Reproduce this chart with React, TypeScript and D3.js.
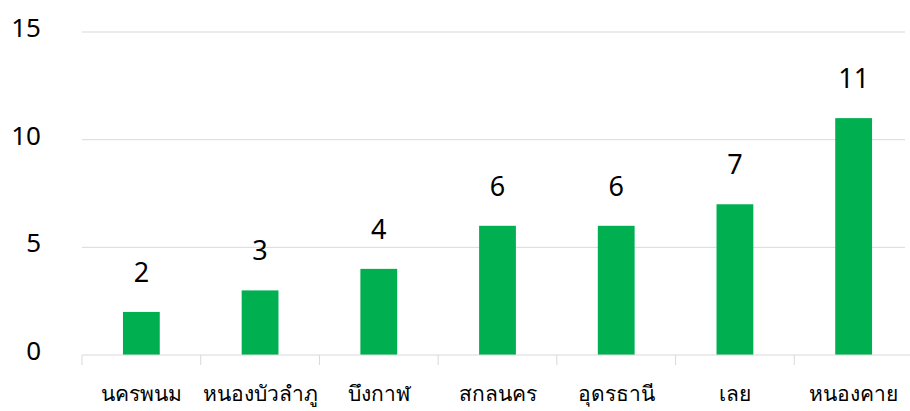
import React from 'react';
import * as d3 from 'd3';

const provinces = ['นครพนม', 'หนองบัวลำภู', 'บึงกาฬ', 'สกลนคร', 'อุดรธานี', 'เลย', 'หนองคาย'];
const counts = [2, 3, 4, 6, 6, 7, 11];
const yTicks = [0, 5, 10, 15];

const width = 910;
const height = 411;
const margin = { top: 32, right: -3, bottom: 56, left: 82 };

const App: React.FC = () => {
  const innerWidth = width - margin.left - margin.right;
  const innerHeight = height - margin.top - margin.bottom;

  const x = d3.scaleBand().domain(provinces).range([0, innerWidth]).paddingInner(0.69).paddingOuter(0.345);
  const band = d3.scaleBand().domain(provinces).range([0, innerWidth]);
  const y = d3.scaleLinear().domain([0, 15]).range([innerHeight, 0]);

  const font = 'Tahoma, "Noto Sans", "DejaVu Sans", sans-serif';

  return (
    <svg width={width} height={height} style={{ position: 'absolute', left: 0, top: 0 }}>
      <rect width={width} height={height} fill="#fff" />
      <g transform={`translate(${margin.left},${margin.top})`}>
        {yTicks.map(t => (
          <g key={t}>
            {t > 0 && <line x1={0} x2={innerWidth - 8} y1={y(t)} y2={y(t)} stroke="#d9d9d9" strokeWidth={1} />}
            <text x={-41} y={y(t) + 5} textAnchor="end" fontSize={26} fontFamily={font} fill="#000">{t}</text>
          </g>
        ))}
        {counts.map((v, i) => (
          <rect key={provinces[i]} x={x(provinces[i])} y={y(v)} width={x.bandwidth()} height={innerHeight - y(v)} fill="#00b050" />
        ))}
        <line x1={0} x2={innerWidth} y1={innerHeight} y2={innerHeight} stroke="#d9d9d9" strokeWidth={1} />
        {provinces.map(p => (
          <line key={p} x1={band(p)} x2={band(p)} y1={innerHeight} y2={innerHeight + 10} stroke="#d9d9d9" strokeWidth={1} />
        ))}
        {counts.map((v, i) => (
          <text key={provinces[i]} x={(x(provinces[i]) ?? 0) + x.bandwidth() / 2} y={y(v) - 30} textAnchor="middle" fontSize={27} fontFamily={font} fill="#000">{v}</text>
        ))}
        {provinces.map(p => (
          <text key={p} x={(band(p) ?? 0) + band.bandwidth() / 2} y={innerHeight + 46} textAnchor="middle" fontSize={21} fontFamily={font} fill="#000">{p}</text>
        ))}
      </g>
    </svg>
  );
};

export default App;
